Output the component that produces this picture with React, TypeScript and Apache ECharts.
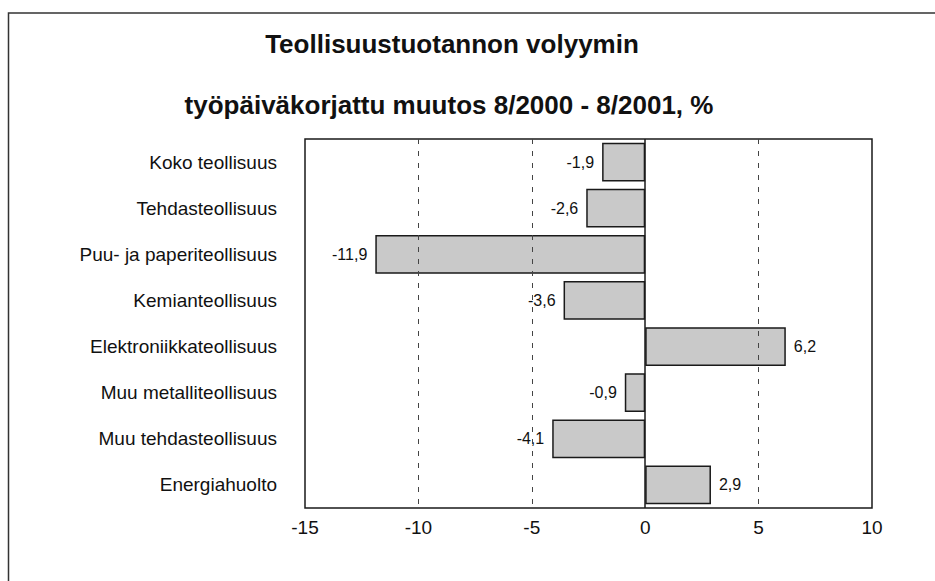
import React, { useEffect, useRef } from "react";
import * as echarts from "echarts";

const titleLines = ["Teollisuustuotannon volyymin", "työpäiväkorjattu muutos 8/2000 - 8/2001, %"];
const categories = [
  "Koko teollisuus",
  "Tehdasteollisuus",
  "Puu- ja paperiteollisuus",
  "Kemianteollisuus",
  "Elektroniikkateollisuus",
  "Muu metalliteollisuus",
  "Muu tehdasteollisuus",
  "Energiahuolto",
];
const values = [-1.9, -2.6, -11.9, -3.6, 6.2, -0.9, -4.1, 2.9];
const xTicks = { min: -15, max: 10, interval: 5 };
const dashedAt = [-10, -5, 5];

const FONT = "'Liberation Sans', Arial, Helvetica, sans-serif";

export default function App() {
  const ref = useRef<HTMLDivElement>(null);
  useEffect(() => {
    if (!ref.current) return;
    const chart = echarts.init(ref.current, undefined, { renderer: "svg" });
    chart.setOption({
      animation: false,
      backgroundColor: "#ffffff",
      textStyle: { fontFamily: FONT },
      title: [
        {
          text: titleLines[0],
          left: 452,
          top: 31,
          textAlign: "center",
          padding: 0,
          textStyle: { fontFamily: FONT, fontSize: 26, fontWeight: "bold", color: "#111" },
        },
        {
          text: titleLines[1],
          left: 449,
          top: 92,
          textAlign: "center",
          padding: 0,
          textStyle: { fontFamily: FONT, fontSize: 26, fontWeight: "bold", color: "#111" },
        },
      ],
      graphic: [
        {
          type: "rect",
          shape: { x: 8.5, y: 13, width: 1000, height: 700 },
          style: { fill: "none", stroke: "#333", lineWidth: 1.5 },
          silent: true,
        },
      ],
      grid: {
        left: 305,
        top: 139,
        right: 63,
        bottom: 73,
        show: true,
        borderColor: "#1a1a1a",
        borderWidth: 1.5,
        backgroundColor: "transparent",
      },
      xAxis: {
        type: "value",
        min: xTicks.min,
        max: xTicks.max,
        interval: xTicks.interval,
        axisLine: { show: false },
        axisTick: { show: false },
        splitLine: { show: false },
        axisLabel: {
          fontFamily: FONT,
          fontSize: 19,
          color: "#111",
          margin: 10,
        },
      },
      yAxis: {
        type: "category",
        data: categories,
        inverse: true,
        axisLine: { show: false, onZero: false },
        axisTick: { show: false },
        splitLine: { show: false },
        axisLabel: {
          fontFamily: FONT,
          fontSize: 19,
          color: "#111",
          margin: 28,
        },
      },
      series: [
        {
          type: "bar",
          data: values.map((v) => ({
            value: v,
            label: { position: v < 0 ? "left" : "right" },
          })),
          barCategoryGap: "16%",
          itemStyle: {
            color: "#c9c9c9",
            borderColor: "#1a1a1a",
            borderWidth: 1.5,
          },
          label: {
            show: true,
            fontFamily: FONT,
            fontSize: 16,
            color: "#111",
            distance: 8,
            formatter: (p: any) => String(p.value).replace(".", ","),
          },
          markLine: {
            silent: true,
            symbol: "none",
            label: { show: false },
            data: [
              { xAxis: 0, lineStyle: { type: "solid", color: "#1a1a1a", width: 1.5 } },
              ...dashedAt.map((v) => ({
                xAxis: v,
                lineStyle: { type: [5, 7], color: "#444", width: 1 },
              })),
            ],
          },
          z: 3,
        },
      ],
    });
    return () => chart.dispose();
  }, []);
  return (
    <div
      ref={ref}
      style={{ position: "fixed", left: 0, top: 0, width: 935, height: 581 }}
    />
  );
}
